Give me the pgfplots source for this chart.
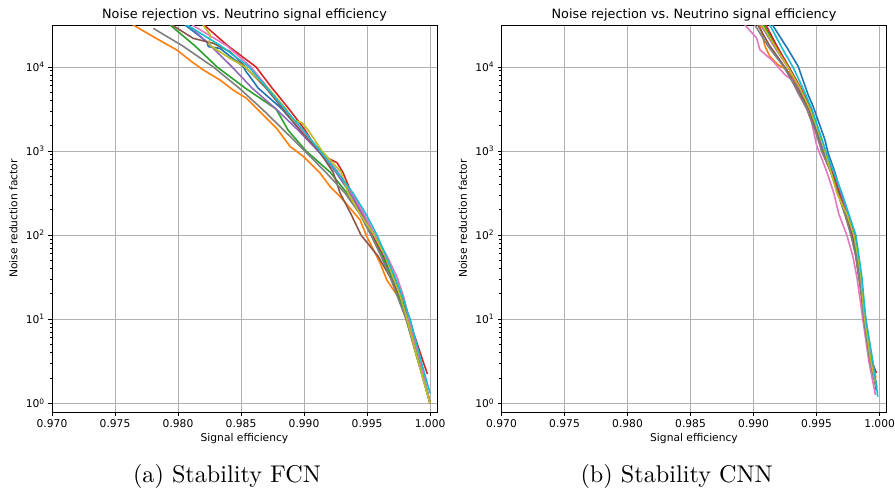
\documentclass[border=0pt]{standalone}
\usepackage{fontspec}
\usepackage{pgfplots}
\pgfplotsset{compat=1.18}
\newfontfamily\dv{DejaVu Sans}
\newfontfamily\lmten{lmroman10-regular.otf}

\definecolor{tabblue}{HTML}{1F77B4}
\definecolor{taborange}{HTML}{FF7F0E}
\definecolor{tabgreen}{HTML}{2CA02C}
\definecolor{tabred}{HTML}{D62728}
\definecolor{tabpurple}{HTML}{9467BD}
\definecolor{tabbrown}{HTML}{8C564B}
\definecolor{tabpink}{HTML}{E377C2}
\definecolor{tabgray}{HTML}{7F7F7F}
\definecolor{tabolive}{HTML}{BCBD22}
\definecolor{tabcyan}{HTML}{17BECF}
\definecolor{gridgray}{HTML}{B0B0B0}

\newcommand\tickfont{\dv\fontsize{10.7}{12}\selectfont}
\newcommand\titlefont{\dv\fontsize{12.8}{15}\selectfont}

\begin{document}
\begin{tikzpicture}
\path[use as bounding box] (0,0) rectangle (895pt,-491pt);

% (a) FCN
\begin{axis}[
    at={(52pt,-412pt)}, anchor=south west,
    scale only axis, width=385pt, height=387pt,
    ymode=log,
    xmin=0.970, xmax=1.00055, ymin=0.788, ymax=31550,
    xtick={0.970,0.975,0.980,0.985,0.990,0.995,1.000},
    xticklabels={0.970,0.975,0.980,0.985,0.990,0.995,1.000},
    ytick={1,10,100,1000,10000},
    yticklabels={10\textsuperscript{0},10\textsuperscript{1},10\textsuperscript{2},10\textsuperscript{3},10\textsuperscript{4}},
    tick align=outside, xtick pos=bottom, ytick pos=left,
    major tick length=3.75pt, minor tick length=2.1pt,
    tick style={black, line width=0.85pt},
    xmajorgrids, ymajorgrids, major grid style={draw=gridgray, line width=0.85pt},
    axis line style={black, line width=0.85pt},
    ticklabel style={font=\tickfont},
    title={Noise rejection vs.\ Neutrino signal efficiency},
    every axis title/.style={at={(axis description cs:0.5,1.0173)}, anchor=base, font=\titlefont},
    xlabel={Signal efficiency},
    ylabel={Noise reduction factor},
    xlabel style={at={(axis description cs:0.5,-0.0762)}, anchor=base, font=\tickfont},
    ylabel style={at={(axis description cs:-0.0899,0.5)}, anchor=base, font=\tickfont},
    no markers,
    every axis plot/.append style={line width=1.6pt, line join=round},
]
\addplot[tabblue] coordinates {(0.98056,31623) (0.98228,20000) (0.98241,17460) (0.98333,16640) (0.98518,10090) (0.98540,8790) (0.98571,7670) (0.98635,5623) (0.98825,3162) (0.98968,1778) (0.99119,1000) (0.99254,562.3) (0.99365,316.2) (0.99460,177.8) (0.99548,100) (0.99627,56.23) (0.99698,31.62) (0.99762,17.78) (0.99817,10) (0.99913,3.162) (1.00000,1)};
\addplot[taborange] coordinates {(0.97643,31623) (0.97802,22960) (0.97990,15920) (0.98109,11560) (0.98201,9210) (0.98333,7000) (0.98437,5320) (0.98545,4230) (0.98675,2704) (0.98783,1858) (0.98889,1135) (0.98994,863) (0.99127,547) (0.99206,379) (0.99286,288) (0.99444,152) (0.99498,96.2) (0.99603,46.8) (0.99656,29.4) (0.99709,22.3) (0.99786,15.6) (1.00000,1)};
\addplot[tabgreen] coordinates {(0.97937,31623) (0.98135,17783) (0.98310,10000) (0.98532,5623) (0.98778,3162) (0.98873,1778) (0.99016,1000) (0.99206,562.3) (0.99341,316.2) (0.99444,177.8) (0.99532,100) (0.99619,56.23) (0.99690,31.62) (0.99754,17.78) (0.99810,10) (0.99905,3.162) (1.00000,1)};
\addplot[tabred] coordinates {(0.98206,31623) (0.98397,17783) (0.98619,10000) (0.98746,5623) (0.98881,3162) (0.99008,1778) (0.99111,1000) (0.99183,832) (0.99262,726) (0.99310,552) (0.99365,347) (0.99381,316.2) (0.99468,177.8) (0.99548,100) (0.99635,56.23) (0.99714,31.62) (0.99778,17.78) (0.99833,10) (0.99944,3.162) (0.99979,2.23)};
\addplot[tabpurple] coordinates {(0.98079,31623) (0.98262,17783) (0.98429,10000) (0.98587,5623) (0.98778,3162) (0.98952,1778) (0.99111,1000) (0.99254,562.3) (0.99365,316.2) (0.99460,177.8) (0.99556,100) (0.99643,56.23) (0.99714,31.62) (0.99778,17.78) (0.99833,10) (0.99921,3.162) (1.00000,1)};
\addplot[tabbrown] coordinates {(0.97952,31623) (0.98121,21880) (0.98280,19100) (0.98413,15210) (0.98571,8790) (0.98698,5623) (0.98833,3162) (0.98968,1778) (0.99119,1000) (0.99230,562.3) (0.99286,316.2) (0.99373,177.8) (0.99452,100) (0.99587,56.23) (0.99683,31.62) (0.99770,17.78) (0.99841,10) (0.99921,3.162) (1.00000,1)};
\addplot[tabpink] coordinates {(0.98111,31623) (0.98389,17783) (0.98579,10000) (0.98714,5623) (0.98849,3162) (0.98984,1778) (0.99135,1000) (0.99270,562.3) (0.99381,316.2) (0.99476,177.8) (0.99564,100) (0.99659,56.23) (0.99738,31.62) (0.99794,17.78) (0.99833,10) (0.99921,3.162) (1.00000,1)};
\addplot[tabgray] coordinates {(0.97804,28800) (0.98037,17783) (0.98280,10000) (0.98484,5623) (0.98667,3162) (0.98838,1778) (0.99006,1000) (0.99171,562.3) (0.99325,316.2) (0.99444,177.8) (0.99532,100) (0.99611,56.23) (0.99683,31.62) (0.99746,17.78) (0.99810,10) (0.99905,3.162) (1.00000,1)};
\addplot[tabolive] coordinates {(0.98198,31623) (0.98254,24270) (0.98246,18400) (0.98413,12650) (0.98532,10000) (0.98714,5623) (0.98857,3162) (0.98913,2344) (0.98984,2173) (0.99032,1778) (0.99143,1000) (0.99294,562.3) (0.99349,316.2) (0.99444,177.8) (0.99556,100) (0.99643,56.23) (0.99706,31.62) (0.99770,17.78) (0.99817,10) (0.99905,3.162) (1.00000,1)};
\addplot[tabcyan] coordinates {(0.98071,31623) (0.98341,17783) (0.98564,10000) (0.98706,5623) (0.98849,3162) (0.98992,1778) (0.99127,1000) (0.99262,562.3) (0.99389,316.2) (0.99492,177.8) (0.99579,100) (0.99651,56.23) (0.99722,31.62) (0.99786,17.78) (0.99841,10) (0.99929,3.162) (1.00000,1.315)};
\end{axis}

% (b) CNN
\begin{axis}[
    at={(501.5pt,-412pt)}, anchor=south west,
    scale only axis, width=385pt, height=387pt,
    ymode=log,
    xmin=0.970, xmax=1.00055, ymin=0.788, ymax=31550,
    xtick={0.970,0.975,0.980,0.985,0.990,0.995,1.000},
    xticklabels={0.970,0.975,0.980,0.985,0.990,0.995,1.000},
    ytick={1,10,100,1000,10000},
    yticklabels={10\textsuperscript{0},10\textsuperscript{1},10\textsuperscript{2},10\textsuperscript{3},10\textsuperscript{4}},
    tick align=outside, xtick pos=bottom, ytick pos=left,
    major tick length=3.75pt, minor tick length=2.1pt,
    tick style={black, line width=0.85pt},
    xmajorgrids, ymajorgrids, major grid style={draw=gridgray, line width=0.85pt},
    axis line style={black, line width=0.85pt},
    ticklabel style={font=\tickfont},
    title={Noise rejection vs.\ Neutrino signal efficiency},
    every axis title/.style={at={(axis description cs:0.5,1.0173)}, anchor=base, font=\titlefont},
    xlabel={Signal efficiency},
    ylabel={Noise reduction factor},
    xlabel style={at={(axis description cs:0.5,-0.0762)}, anchor=base, font=\tickfont},
    ylabel style={at={(axis description cs:-0.0899,0.5)}, anchor=base, font=\tickfont},
    no markers,
    every axis plot/.append style={line width=1.6pt, line join=round},
]
\addplot[tabblue] coordinates {(0.99150,31623) (0.99275,16070) (0.99354,10160) (0.99433,4680) (0.99473,3396) (0.99566,1365) (0.99592,946) (0.99645,562.3) (0.99693,316.2) (0.99748,177.8) (0.99804,100) (0.99828,56.23) (0.99852,31.62) (0.99867,17.78) (0.99883,10) (0.99923,3.162) (0.99955,1.95)};
\addplot[taborange] coordinates {(0.99050,31623) (0.99090,17783) (0.99129,13370) (0.99193,10640) (0.99264,9270) (0.99360,5623) (0.99439,3162) (0.99494,1778) (0.99542,1000) (0.99614,562.3) (0.99669,316.2) (0.99725,177.8) (0.99780,100) (0.99812,56.23) (0.99836,31.62) (0.99860,17.78) (0.99883,10) (0.99939,3.162) (0.99971,2.0)};
\addplot[tabgreen] coordinates {(0.99082,31623) (0.99177,17783) (0.99280,10000) (0.99368,5623) (0.99447,3162) (0.99502,1778) (0.99550,1000) (0.99621,562.3) (0.99677,316.2) (0.99733,177.8) (0.99788,100) (0.99820,56.23) (0.99844,31.62) (0.99867,17.78) (0.99883,10) (0.99931,3.162) (0.99978,1.585)};
\addplot[tabred] coordinates {(0.99098,31623) (0.99185,17783) (0.99280,10000) (0.99375,5623) (0.99455,3162) (0.99502,1778) (0.99558,1000) (0.99629,562.3) (0.99685,316.2) (0.99740,177.8) (0.99788,100) (0.99820,56.23) (0.99844,31.62) (0.99860,17.78) (0.99883,10) (0.99939,3.162) (0.99975,2.29)};
\addplot[tabpurple] coordinates {(0.99058,31623) (0.99161,17783) (0.99272,10000) (0.99360,5623) (0.99439,3162) (0.99502,1778) (0.99558,1000) (0.99637,562.3) (0.99693,316.2) (0.99748,177.8) (0.99796,100) (0.99820,56.23) (0.99844,31.62) (0.99867,17.78) (0.99891,10) (0.99939,3.162) (0.99971,1.778)};
\addplot[tabbrown] coordinates {(0.99034,31623) (0.99129,17783) (0.99248,10000) (0.99344,5623) (0.99439,3162) (0.99494,1778) (0.99542,1000) (0.99614,562.3) (0.99669,316.2) (0.99725,177.8) (0.99780,100) (0.99812,56.23) (0.99836,31.62) (0.99860,17.78) (0.99875,10) (0.99931,3.162) (0.99975,1.413)};
\addplot[tabpink] coordinates {(0.98931,31623) (0.99024,22130) (0.99050,16070) (0.99156,11670) (0.99248,8090) (0.99302,7060) (0.99354,4850) (0.99421,3214) (0.99460,2234) (0.99500,1178) (0.99518,1000) (0.99582,562.3) (0.99637,316.2) (0.99677,177.8) (0.99740,100) (0.99788,56.23) (0.99820,31.62) (0.99844,17.78) (0.99867,10) (0.99915,3.162) (0.99967,1.259)};
\addplot[tabgray] coordinates {(0.99010,31623) (0.99114,17783) (0.99241,10000) (0.99336,5623) (0.99423,3162) (0.99487,1778) (0.99542,1000) (0.99614,562.3) (0.99669,316.2) (0.99725,177.8) (0.99772,100) (0.99812,56.23) (0.99836,31.62) (0.99860,17.78) (0.99875,10) (0.99923,3.162) (0.99971,1.66)};
\addplot[tabolive] coordinates {(0.99066,31623) (0.99169,17783) (0.99272,10000) (0.99368,5623) (0.99447,3162) (0.99510,1778) (0.99566,1000) (0.99614,562.3) (0.99661,316.2) (0.99740,177.8) (0.99796,100) (0.99828,56.23) (0.99852,31.62) (0.99867,17.78) (0.99883,10) (0.99931,3.162) (0.99978,1.514)};
\addplot[tabcyan] coordinates {(0.99129,31623) (0.99217,17783) (0.99312,10000) (0.99391,5623) (0.99463,3162) (0.99518,1778) (0.99574,1000) (0.99637,562.3) (0.99701,316.2) (0.99756,177.8) (0.99812,100) (0.99836,56.23) (0.99860,31.62) (0.99875,17.78) (0.99891,10) (0.99947,3.162) (0.99986,1.2)};
\end{axis}

\node[anchor=base, font=\lmten\fontsize{24.2}{29}\selectfont] at (227pt,-482.5pt) {(a) Stability FCN};
\node[anchor=base, font=\lmten\fontsize{24.2}{29}\selectfont] at (676.7pt,-482.5pt) {(b) Stability CNN};
\end{tikzpicture}
\end{document}
